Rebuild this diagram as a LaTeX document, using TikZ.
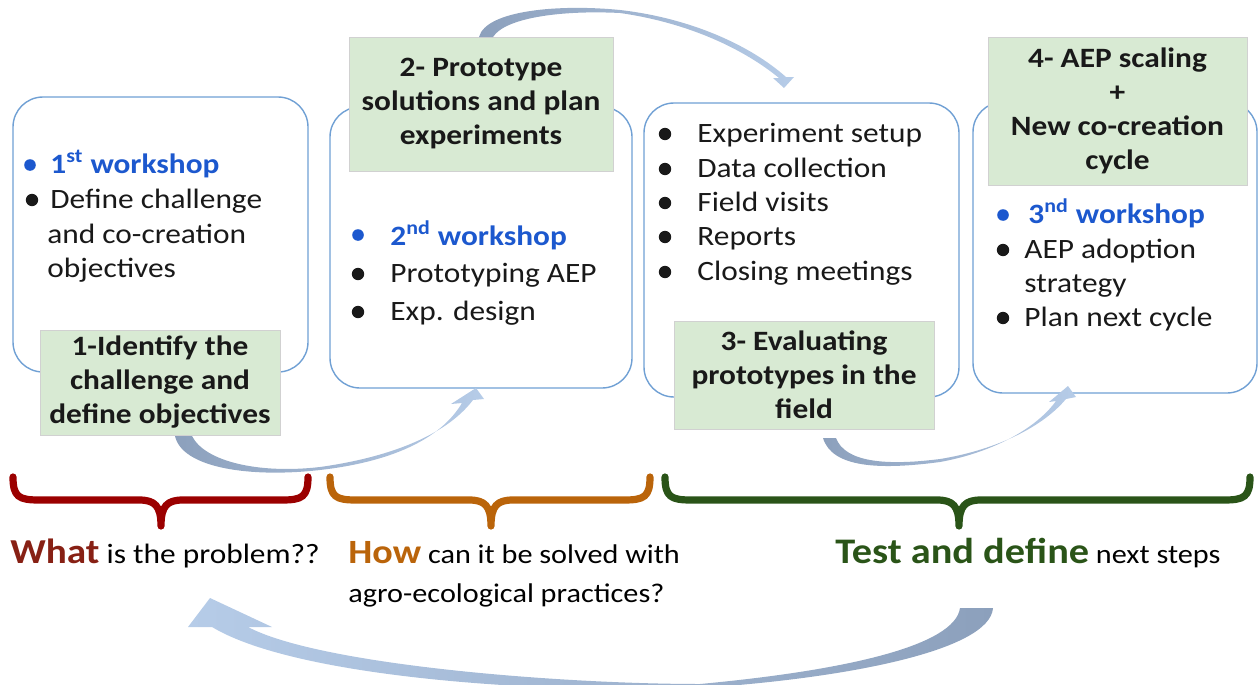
\documentclass[tikz,border=0pt]{standalone}
\usepackage{fontspec}
\setmainfont{Carlito}[FakeStretch=1.12]
\usetikzlibrary{calc}
\definecolor{boxblue}{RGB}{112,160,212}
\definecolor{titlegreen}{RGB}{216,234,211}
\definecolor{wsblue}{RGB}{28,88,206}
\definecolor{arrowdark}{RGB}{140,160,188}
\definecolor{arrowlight}{RGB}{182,204,232}
\definecolor{bracered}{RGB}{155,0,0}
\definecolor{braceorange}{RGB}{186,100,10}
\definecolor{bracegreen}{RGB}{42,84,24}
\definecolor{whatred}{RGB}{135,32,20}
\definecolor{textdark}{RGB}{25,25,25}
\tikzset{
  stage/.style      = {rectangle, rounded corners=15pt, draw=boxblue, line width=0.7pt, fill=white},
  stagetitle/.style = {rectangle, draw=black!18, line width=0.4pt, fill=titlegreen, align=center,
                       font=\fontsize{14}{17}\selectfont\bfseries, text=textdark, inner sep=0pt},
  itemtxt/.style    = {anchor=base west, inner sep=0pt, font=\fontsize{14}{17}\selectfont, text=textdark},
  wshop/.style      = {itemtxt, font=\fontsize{14}{17}\selectfont\bfseries, text=wsblue},
  bulletdot/.style  = {circle, fill=textdark, inner sep=0pt, minimum size=6.2pt},
  wsdot/.style      = {bulletdot, fill=wsblue, minimum size=5.8pt},
  bracepath/.style  = {line width=3.6pt, line cap=round, line join=round},
  loop arrow/.style = {left color=arrowdark, right color=arrowlight},
  back arrow/.style = {left color=arrowlight, right color=arrowdark},
  question/.style   = {anchor=base west, inner sep=0pt, font=\fontsize{14}{17}\selectfont, text=black},
}

\begin{document}
\begin{tikzpicture}[x=0.5pt, y=-0.5pt]
\clip (0,0) rectangle (1258,685);
\useasboundingbox (0,0) rectangle (1258,685);

% ===================== stage boxes =====================
\node[stage, minimum width=147.5pt, minimum height=137.5pt] (s1) at (160.5,234.5) {};
\node[stage, minimum width=151pt,   minimum height=140.5pt] (s2) at (481,247.5) {};
\node[stage, minimum width=157.5pt, minimum height=147pt]   (s3) at (801.5,250) {};
\node[stage, minimum width=142pt,   minimum height=145.5pt] (s4) at (1115,247.5) {};

% green titles
\node[stagetitle, minimum width=120pt,   minimum height=52.5pt] (t1) at (160,382.5) {1-Identify the\\challenge and\\define objectives};
\node[stagetitle, minimum width=132pt,   minimum height=67pt]   (t2) at (481,104)   {2- Prototype\\solutions and plan\\experiments};
\node[stagetitle, minimum width=130pt,   minimum height=54pt]   (t3) at (804,375)   {3- Evaluating\\prototypes in the\\field};
\node[stagetitle, minimum width=129.5pt, minimum height=74pt]   (t4) at (1117.5,111) {4- AEP scaling\\+\\New co-creation\\cycle};

% ===================== box 1 =====================
\node[wsdot]     (d10) at (30,165) {};
\node[wshop]     (w1)  at (50,173) {1\textsuperscript{st} workshop};
\node[bulletdot] (d11) at (32,200) {};
\node[itemtxt]   (i11) at (50,208) {Define challenge};
\node[itemtxt]   (i12) at (47,243) {and co-creation};
\node[itemtxt]   (i13) at (47,277) {objectives};

% ===================== box 2 =====================
\node[wsdot]     (d20) at (358,235) {};
\node[wshop]     (w2)  at (390,245) {2\textsuperscript{nd} workshop};
\node[bulletdot] (d21) at (358,274) {};
\node[itemtxt]   (i21) at (390,282) {Prototyping AEP};
\node[bulletdot] (d22) at (358,312) {};
\node[itemtxt]   (i22) at (390,320) {Exp. design};

% ===================== box 3 =====================
\foreach \txt/\yb [count=\i] in {Experiment setup/142, Data collection/177, Field visits/211,
                                 Reports/245, Closing meetings/280}{
  \node[bulletdot] (d3\i) at (665,\yb-8) {};
  \node[itemtxt]   (i3\i) at (697,\yb) {\txt};
}

% ===================== box 4 =====================
\node[wsdot]     (d40) at (1003,215) {};
\node[wshop]     (w4)  at (1028,223) {3\textsuperscript{nd} workshop};
\node[bulletdot] (d41) at (1003,250) {};
\node[itemtxt]   (i41) at (1024,258) {AEP adoption};
\node[itemtxt]   (i42) at (1024,292) {strategy};
\node[bulletdot] (d42) at (1003,318) {};
\node[itemtxt]   (i43) at (1024,326) {Plan next cycle};

% ===================== curved arrows between stages =====================
% 1 -> 2
\shade[loop arrow] (175,436) .. controls (182,468) and (250,478) .. (320,470)
  .. controls (390,462) and (440,440) .. (462,403)
  -- (451,404) -- (476,388) -- (484,399) -- (473,400)
  .. controls (445,437) and (385,458) .. (320,467)
  .. controls (260,474) and (205,462) .. (192,436) -- cycle;
% 2 -> 3
\shade[loop arrow] (479,37) .. controls (486,10) and (560,4) .. (620,10)
  .. controls (690,18) and (750,45) .. (786,77)
  -- (794,77) -- (784,88) -- (773,78) -- (779,78)
  .. controls (745,50) and (690,23) .. (620,13)
  .. controls (560,10) and (505,18) .. (493,37) -- cycle;
% 3 -> 4
\shade[loop arrow] (823,438) .. controls (832,468) and (880,470) .. (940,462)
  .. controls (990,453) and (1035,430) .. (1056,401)
  -- (1049,402) -- (1068,386) -- (1076,397) -- (1066,399)
  .. controls (1040,430) and (990,451) .. (940,459)
  .. controls (885,466) and (845,462) .. (836,438) -- cycle;
% back to the start
\shade[back arrow] (993,608) .. controls (990,650) and (850,678) .. (700,688)
  .. controls (560,694) and (300,680) .. (212,627)
  -- (188,627) -- (210,598) -- (272,627) -- (248,627)
  .. controls (320,665) and (560,684) .. (700,684)
  .. controls (850,670) and (955,645) .. (960,608) -- cycle;

% ===================== braces =====================
\foreach \l/\c/\r/\col in {13/161/308/bracered, 330/491/650/braceorange, 665/959/1250/bracegreen}{
  \draw[bracepath, \col] (\l,477) .. controls (\l,497) and (\l+6,500) .. (\l+26,500)
    -- (\c-22,500) .. controls (\c-6,500) and (\c,506) .. (\c,526)
    .. controls (\c,506) and (\c+6,500) .. (\c+22,500)
    -- (\r-26,500) .. controls (\r-6,500) and (\r,497) .. (\r,477);
}

% ===================== questions =====================
\node[question] (what) at (10,563)  {\textcolor{whatred}{\fontsize{17.5}{22}\selectfont\bfseries What} is the problem??};
\node[question, font=\fontsize{13.5}{17}\selectfont] (how)  at (348,563) {\textcolor{braceorange}{\fontsize{17}{22}\selectfont\bfseries How} can it be solved with};
\node[question, font=\fontsize{13.5}{17}\selectfont] (how2) at (348,602) {agro-ecological practices?};
\node[question, font=\fontsize{13.5}{17}\selectfont] (test) at (835,563) {\textcolor{bracegreen}{\fontsize{18}{22}\selectfont\bfseries Test and define} next steps};

\end{tikzpicture}
\end{document}
